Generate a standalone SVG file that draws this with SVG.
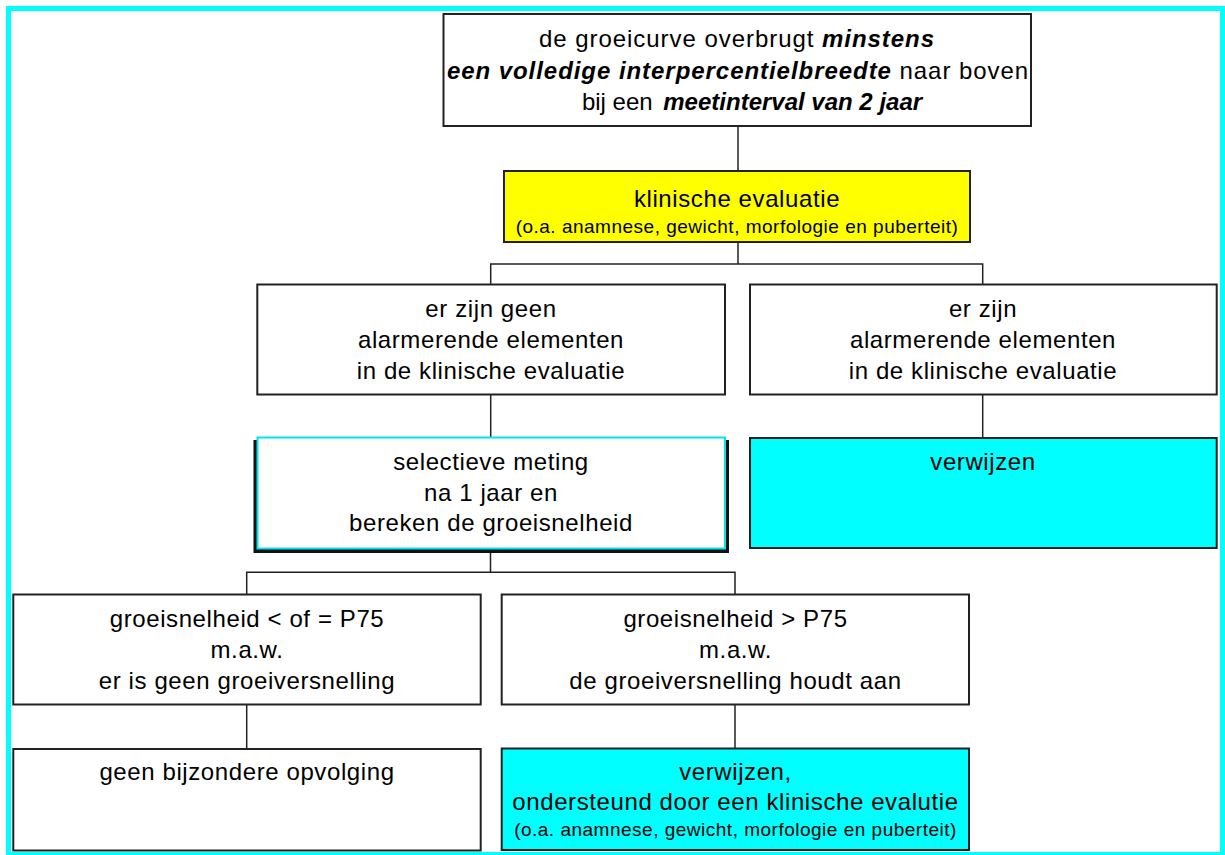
<svg xmlns="http://www.w3.org/2000/svg" width="1225" height="855" viewBox="0 0 1225 855">
<style>
.box{fill:#fff;stroke:#222;stroke-width:2}
.cy{fill:#00ffff;stroke:#222;stroke-width:2}
.yl{fill:#ffff00;stroke:#222;stroke-width:2}
.t{font-family:"Liberation Sans",Arial,sans-serif;font-size:24px;letter-spacing:0.6px;fill:#000;text-anchor:middle}
.w{letter-spacing:0.95px}
.n{letter-spacing:0px}
.s{font-family:"Liberation Sans",Arial,sans-serif;font-size:19px;letter-spacing:0.5px;fill:#000;text-anchor:middle}
.bi{font-weight:bold;font-style:italic}
.c{fill:none;stroke:#222;stroke-width:1.5}
</style>
<rect width="1225" height="855" fill="#fff"/>
<rect x="8.5" y="8.5" width="1214" height="846" fill="none" stroke="#00ffff" stroke-width="5"/>
<g id="connectors">
<path class="c" d="M738 126V171"/>
<path class="c" d="M738 242V264M490.7 285V264H982.7V285"/>
<path class="c" d="M490.7 394V437"/>
<path class="c" d="M982.7 394V438"/>
<path class="c" d="M490.5 553V572.3M246.7 594V572.3H735V594"/>
<path class="c" d="M246.7 704V749"/>
<path class="c" d="M735 704V748"/>
</g>
<g id="n-top">
<rect class="box" x="443.5" y="14" width="587.5" height="112"/>
<text class="t w" x="737" y="47">de groeicurve overbrugt  <tspan class="bi">minstens</tspan></text>
<text class="t w" x="738" y="78.5"><tspan class="bi">een volledige interpercentielbreedte</tspan> naar boven</text>
<text class="t n" x="752" y="110">bij een <tspan class="bi" dx="4">meetinterval van 2 jaar</tspan></text>
</g>
<g id="n-klinisch">
<rect class="yl" x="504" y="171" width="466" height="71"/>
<text class="t" x="737" y="206.5">klinische evaluatie</text>
<text class="s" x="737" y="233">(o.a. anamnese, gewicht, morfologie en puberteit)</text>
</g>
<g id="n-geen-alarm">
<rect class="box" x="257.3" y="284.5" width="467.7" height="110"/>
<text class="t" x="491" y="317">er zijn geen</text>
<text class="t" x="491" y="348">alarmerende elementen</text>
<text class="t" x="491" y="378.5">in de klinische evaluatie</text>
</g>
<g id="n-alarm">
<rect class="box" x="750" y="284.5" width="466.7" height="110"/>
<text class="t" x="983" y="317">er zijn</text>
<text class="t" x="983" y="348">alarmerende elementen</text>
<text class="t" x="983" y="378.5">in de klinische evaluatie</text>
</g>
<g id="n-selectief">
<rect x="253.5" y="440" width="475.5" height="113" fill="#111"/>
<rect x="257.5" y="437.5" width="467.5" height="111" fill="#fff" stroke="#00e5ee" stroke-width="2"/>
<text class="t" x="491" y="470">selectieve meting</text>
<text class="t" x="491" y="500.5">na 1 jaar en</text>
<text class="t" x="491" y="531">bereken de groeisnelheid</text>
</g>
<g id="n-verwijzen1">
<rect class="cy" x="750" y="438" width="466.7" height="110"/>
<text class="t" x="983" y="470">verwijzen</text>
</g>
<g id="n-p75-laag">
<rect class="box" x="13.3" y="594.5" width="467.4" height="110"/>
<text class="t" x="247" y="627">groeisnelheid &lt; of = P75</text>
<text class="t" x="247" y="658">m.a.w.</text>
<text class="t" x="247" y="688.5">er is geen groeiversnelling</text>
</g>
<g id="n-p75-hoog">
<rect class="box" x="501.7" y="594.5" width="467.3" height="110"/>
<text class="t" x="735.5" y="627">groeisnelheid &gt; P75</text>
<text class="t" x="735.5" y="658">m.a.w.</text>
<text class="t" x="735.5" y="688.5">de groeiversnelling houdt aan</text>
</g>
<g id="n-geen-opvolging">
<rect class="box" x="13.3" y="749" width="467.4" height="101.5"/>
<text class="t" x="247" y="780">geen bijzondere opvolging</text>
</g>
<g id="n-verwijzen2">
<rect class="cy" x="501.7" y="748.5" width="467.3" height="101.5"/>
<text class="t" x="735.5" y="780">verwijzen,</text>
<text class="t" x="735.5" y="810">ondersteund door een klinische evalutie</text>
<text class="s" x="735.5" y="836">(o.a. anamnese, gewicht, morfologie en puberteit)</text>
</g>
</svg>
